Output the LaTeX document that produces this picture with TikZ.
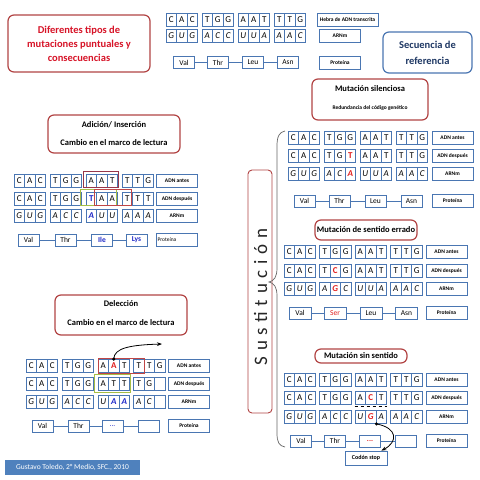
\documentclass[tikz,border=0pt]{standalone}
\usepackage{fontspec}
\setmainfont{Carlito}
\usetikzlibrary{arrows.meta}
\definecolor{cblue}{RGB}{74,118,178}
\definecolor{tred}{RGB}{178,68,68}
\definecolor{ttext}{RGB}{215,20,40}
\definecolor{dblue}{RGB}{31,56,100}
\definecolor{hgreen}{RGB}{165,190,70}
\definecolor{hred}{RGB}{192,70,70}
\definecolor{hmar}{RGB}{150,55,75}
\definecolor{mutred}{RGB}{225,30,30}
\definecolor{mutblue}{RGB}{30,40,200}
\definecolor{footc}{RGB}{79,129,189}
\newcommand\cellw{10.5}
\newcommand\cod[7]{%
 \node[#1] (#2a) at ({#3+0.5*\cellw},#4) {#5};
 \node[#1] (#2b) at ({#3+1.5*\cellw},#4) {#6};
 \node[#1] (#2c) at ({#3+2.5*\cellw},#4) {#7};}
\newcommand\mr[1]{\textcolor{mutred}{\bfseries #1}}
\newcommand\mb[1]{\textcolor{mutblue}{\bfseries #1}}
\tikzset{
 cell/.style={draw=cblue, line width=0.8pt, fill=white, minimum width=\cellw pt, minimum height=13pt, inner sep=0pt, font=\fontsize{9}{9}\selectfont},
 rcell/.style={cell, font=\fontsize{9}{9}\selectfont\itshape},
 lab/.style={draw=cblue, line width=0.8pt, fill=white, minimum width=41pt, minimum height=13pt, inner sep=0pt, font=\fontsize{5.5}{6}\selectfont\bfseries},
 prot/.style={draw=cblue, line width=0.8pt, fill=white, minimum width=21pt, minimum height=12pt, inner sep=0pt, font=\fontsize{7.5}{8}\selectfont},
 conn/.style={draw=cblue, line width=0.8pt},
 tbox/.style={draw=tred, line width=1.2pt, rounded corners=6pt, fill=white, inner sep=0pt},
 ttl/.style={inner sep=0pt, font=\fontsize{8.5}{9}\selectfont\bfseries},
 sub/.style={inner sep=0pt, font=\fontsize{5.5}{6}\selectfont\bfseries},
 hl/.style={line width=1pt},
}
\begin{document}
\begin{tikzpicture}[x=1pt,y=-1pt]
\useasboundingbox (0,0) rectangle (480,480);
\fill[white] (0,0) rectangle (480,480);

% ---------- title ----------
\node[tbox, minimum width=142pt, minimum height=57pt, align=center, text=ttext, font=\fontsize{10.5}{14}\selectfont\bfseries] (title) at (79,43.5) {Diferentes tipos de\\mutaciones puntuales y\\consecuencias};

% ---------- reference ----------
\cod{cell}{r11}{166}{20}{C}{A}{C}
\cod{cell}{r12}{202}{20}{T}{G}{G}
\cod{cell}{r13}{238}{20}{A}{A}{T}
\cod{cell}{r14}{274}{20}{T}{T}{G}
\cod{rcell}{r21}{166}{35.5}{G}{U}{G}
\cod{rcell}{r22}{202}{35.5}{A}{C}{C}
\cod{rcell}{r23}{238}{35.5}{U}{U}{A}
\cod{rcell}{r24}{274}{35.5}{A}{A}{C}
\node[lab, minimum width=61pt] (rl1) at (347.5,20) {Hebra de ADN transcrita};
\node[lab] (rl2) at (340,36) {ARNm};
\node[lab] (rl3) at (340,62.5) {Proteína};
\node[prot] (rp1) at (184,62.5) {Val};
\node[prot] (rp2) at (218,62.5) {Thr};
\node[prot] (rp3) at (253,62.5) {Leu};
\node[prot] (rp4) at (288,62.5) {Asn};
\draw[conn] (rp1) -- (rp2) (rp2) -- (rp3) (rp3) -- (rp4);
\node[draw=cblue, line width=1.2pt, rounded corners=6pt, minimum width=89pt, minimum height=41pt, align=center, text=dblue, font=\fontsize{10.5}{16}\selectfont\bfseries] (ref) at (427.5,52.5) {Secuencia de\\referencia};

% ---------- Adicion ----------
\node[tbox, minimum width=132pt, minimum height=38pt] (abox) at (114,134) {};
\node[ttl] (at1) at (114,125) {Adición/ Inserción};
\node[ttl] (at2) at (114,143) {Cambio en el marco de lectura};
\cod{cell}{a11}{14}{181}{C}{A}{C}
\cod{cell}{a12}{50}{181}{T}{G}{G}
\cod{cell}{a13}{86}{181}{A}{A}{T}
\cod{cell}{a14}{122}{181}{T}{T}{G}
\cod{cell}{a21}{14}{198.5}{C}{A}{C}
\cod{cell}{a22}{50}{198.5}{T}{G}{G}
\cod{cell}{a23}{86}{198.5}{\mb{T}}{A}{A}
\cod{cell}{a24}{122}{198.5}{T}{T}{T}
\cod{rcell}{a31}{14}{216}{G}{U}{G}
\cod{rcell}{a32}{50}{216}{A}{C}{C}
\cod{rcell}{a33}{86}{216}{\mb{A}}{U}{U}
\cod{rcell}{a34}{122}{216}{A}{A}{A}
\node[lab] (al1) at (177,181) {ADN antes};
\node[lab] (al2) at (177,198.5) {ADN después};
\node[lab] (al3) at (177,216) {ARNm};
\node[lab, font=\fontsize{5.5}{6}\selectfont, text width=39pt, inner xsep=1pt, align=left] (al4) at (177,240) {Proteína};
\node[prot] (ap1) at (28.5,240) {Val};
\node[prot] (ap2) at (65.5,240) {Thr};
\node[prot] (ap3) at (102,240) {\mb{Ile}};
\node[prot] (ap4) at (136.5,240) {\mb{Lys}};
\draw[conn] (ap1) -- (ap2) (ap2) -- (ap3) (ap3) -- (ap4);
\draw[hl, draw=hmar] ([shift={(-2.5pt,3pt)}]a13a.north west) rectangle ([shift={(1pt,0.5pt)}]a13c.south east);
\draw[hl, draw=hgreen] ([shift={(-5pt,2.5pt)}]a23a.north west) rectangle ([shift={(-1.5pt,-0.5pt)}]a23c.south east);
\draw[hl, draw=hred] ([shift={(-1.5pt,2.5pt)}]a23b.north west) rectangle ([shift={(-1.5pt,-0.5pt)}]a24a.south east);

% ---------- Deleccion ----------
\node[tbox, minimum width=132pt, minimum height=40pt] (dbox) at (121,315) {};
\node[ttl] (dt1) at (121,304) {Delección};
\node[ttl] (dt2) at (121,323) {Cambio en el marco de lectura};
\cod{cell}{d11}{26}{366}{C}{A}{C}
\cod{cell}{d12}{62}{366}{T}{G}{G}
\cod{cell}{d13}{98}{366}{A}{\mr{A}}{T}
\cod{cell}{d14}{133.5}{366}{T}{T}{G}
\cod{cell}{d21}{26}{384}{C}{A}{C}
\cod{cell}{d22}{62}{384}{T}{G}{G}
\cod{cell}{d23}{98}{384}{A}{T}{T}
\cod{cell}{d24}{133.5}{384}{T}{G}{}
\cod{rcell}{d31}{26}{402}{G}{U}{G}
\cod{rcell}{d32}{62}{402}{A}{C}{C}
\cod{rcell}{d33}{98}{402}{U}{\mb{A}}{\mb{A}}
\cod{rcell}{d34}{133.5}{402}{A}{C}{}
\node[lab] (dl1) at (189,366) {ADN antes};
\node[lab] (dl2) at (189,384) {ADN después};
\node[lab] (dl3) at (189,402) {ARNm};
\node[lab] (dl4) at (189,426) {Proteína};
\node[prot] (dp1) at (42.5,426) {Val};
\node[prot] (dp2) at (78.5,426) {Thr};
\node[prot] (dp3) at (112.5,426) {\textcolor{mutblue}{...}};
\node[prot] (dp4) at (148.5,426) {};
\draw[conn] (dp1) -- (dp2) (dp2) -- (dp3) (dp3) -- (dp4);
\draw[hl, draw=hred] ([shift={(1pt,0.5pt)}]d13a.north west) rectangle ([shift={(0pt,-0.5pt)}]d14a.south east);
\draw[hl, draw=hgreen] ([shift={(-3pt,2.5pt)}]d23a.north west) rectangle ([shift={(0.5pt,-1.5pt)}]d23c.south east);
\coordinate (dtip) at (162,344);
\fill (d13b.north) circle (1.7pt);
\draw[line width=0.8pt, -{Stealth[length=5pt]}] (d13b.north) .. controls (114,348) and (130,345) .. (dtip);

% ---------- Sustitucion ----------
\node[draw=tred, line width=0.9pt, rounded corners=4pt, minimum width=243pt, minimum height=24pt, inner sep=0pt, rotate=90] (sust) at (260,291.5) {};
\node[inner sep=0pt, rotate=90, text=black!85, font=\fontsize{19}{19}\selectfont\addfontfeature{LetterSpace=30}] (susttext) at (260.5,297) {Sustitución};
\draw[black!60, line width=0.7pt] (285,131) .. controls (279,132) and (277,137) .. (277,146) -- (277,268) .. controls (277,277) and (274,281) .. (269,282) .. controls (274,283) and (277,287) .. (277,296) -- (277,433) .. controls (277,442) and (279,446) .. (285,447);

% ---------- Silenciosa ----------
\node[tbox, minimum width=116pt, minimum height=41pt] (sbox) at (370,99.5) {};
\node[ttl] (st1) at (370,89) {Mutación silenciosa};
\node[sub] (st2) at (370,108) {Redundancia del código genético};
\cod{cell}{s11}{288}{138}{C}{A}{C}
\cod{cell}{s12}{324}{138}{T}{G}{G}
\cod{cell}{s13}{360}{138}{A}{A}{T}
\cod{cell}{s14}{396}{138}{T}{T}{G}
\cod{cell}{s21}{288}{156}{C}{A}{C}
\cod{cell}{s22}{324}{156}{T}{G}{\mr{T}}
\cod{cell}{s23}{360}{156}{A}{A}{T}
\cod{cell}{s24}{396}{156}{T}{T}{G}
\cod{rcell}{s31}{288}{174}{G}{U}{G}
\cod{rcell}{s32}{324}{174}{A}{C}{\mr{A}}
\cod{rcell}{s33}{360}{174}{U}{U}{A}
\cod{rcell}{s34}{396}{174}{A}{A}{C}
\node[lab] (sl1) at (452.5,138) {ADN antes};
\node[lab] (sl2) at (452.5,156) {ADN después};
\node[lab] (sl3) at (452.5,174) {ARNm};
\node[lab] (sl4) at (452.5,201) {Proteína};
\node[prot] (sp1) at (304.5,201) {Val};
\node[prot] (sp2) at (339.5,201) {Thr};
\node[prot] (sp3) at (375.5,201) {Leu};
\node[prot] (sp4) at (411.5,201) {Asn};
\draw[conn] (sp1) -- (sp2) (sp2) -- (sp3) (sp3) -- (sp4);

% ---------- Sentido errado ----------
\node[tbox, minimum width=102pt, minimum height=20pt] (ebox) at (366,230) {};
\node[ttl] (et1) at (366,230) {Mutación de sentido errado};
\cod{cell}{e11}{284}{252}{C}{A}{C}
\cod{cell}{e12}{319.5}{252}{T}{G}{G}
\cod{cell}{e13}{355}{252}{A}{A}{T}
\cod{cell}{e14}{390.5}{252}{T}{T}{G}
\cod{cell}{e21}{284}{270.5}{C}{A}{C}
\cod{cell}{e22}{319.5}{270.5}{T}{\mr{C}}{G}
\cod{cell}{e23}{355}{270.5}{A}{A}{T}
\cod{cell}{e24}{390.5}{270.5}{T}{T}{G}
\cod{rcell}{e31}{284}{289}{G}{U}{G}
\cod{rcell}{e32}{319.5}{289}{A}{\mr{G}}{C}
\cod{rcell}{e33}{355}{289}{U}{U}{A}
\cod{rcell}{e34}{390.5}{289}{A}{A}{C}
\node[lab] (el1) at (446.5,252) {ADN antes};
\node[lab] (el2) at (446.5,270.5) {ADN después};
\node[lab] (el3) at (446.5,289) {ARNm};
\node[lab] (el4) at (446.5,313) {Proteína};
\node[prot, minimum width=22pt] (ep1) at (300,313) {Val};
\node[prot, minimum width=22pt] (ep2) at (335,313) {\textcolor{mutred}{Ser}};
\node[prot, minimum width=22pt] (ep3) at (371,313) {Leu};
\node[prot, minimum width=22pt] (ep4) at (406.5,313) {Asn};
\draw[conn] (ep1) -- (ep2) (ep2) -- (ep3) (ep3) -- (ep4);

% ---------- Sin sentido ----------
\node[tbox, minimum width=92pt, minimum height=14pt] (nbox) at (361,356) {};
\node[ttl] (nt1) at (361,356) {Mutación sin sentido};
\cod{cell}{n11}{284}{380}{C}{A}{C}
\cod{cell}{n12}{319.5}{380}{T}{G}{G}
\cod{cell}{n13}{355}{380}{A}{A}{T}
\cod{cell}{n14}{390.5}{380}{T}{T}{G}
\cod{cell}{n21}{284}{398}{C}{A}{C}
\cod{cell}{n22}{319.5}{398}{T}{G}{G}
\cod{cell}{n23}{355}{398}{A}{\mr{C}}{T}
\cod{cell}{n24}{390.5}{398}{T}{T}{G}
\cod{rcell}{n31}{284}{417}{G}{U}{G}
\cod{rcell}{n32}{319.5}{417}{A}{C}{C}
\cod{rcell}{n33}{355}{417}{U}{\mr{G}}{A}
\cod{rcell}{n34}{390.5}{417}{A}{A}{C}
\node[lab] (nl1) at (446.5,380) {ADN antes};
\node[lab] (nl2) at (446.5,398) {ADN después};
\node[lab] (nl3) at (446.5,417) {ARNm};
\node[lab] (nl4) at (446.5,441) {Proteína};
\node[prot] (np1) at (301,441) {Val};
\node[prot] (np2) at (335,441) {Thr};
\node[prot] (np3) at (370,441) {\textcolor{mutred}{\bfseries ...}};
\node[prot] (np4) at (405.5,441) {};
\draw[conn] (np1) -- (np2) (np2) -- (np3) (np3) -- (np4);
\draw[dashed, line width=0.6pt] ([yshift=4pt]n33a.north west) -- ([yshift=4pt]n33c.north east);
\node[lab, minimum width=42pt, minimum height=14pt, font=\fontsize{6}{6}\selectfont\bfseries] (stop) at (366,458) {Codón stop};
\fill (n33b.south east) circle (1.7pt);
\draw[line width=0.8pt, -{Stealth[length=5pt]}] (n33b.south east) .. controls (398,428) and (398,442) .. ([xshift=-6pt]stop.north east);

% ---------- footer ----------
\node[fill=footc, minimum width=135pt, minimum height=15pt, inner sep=0pt, text=white, font=\fontsize{7.5}{8}\selectfont] (foot) at (72.5,467.5) {Gustavo Toledo, 2° Medio, SFC., 2010};
\end{tikzpicture}
\end{document}
